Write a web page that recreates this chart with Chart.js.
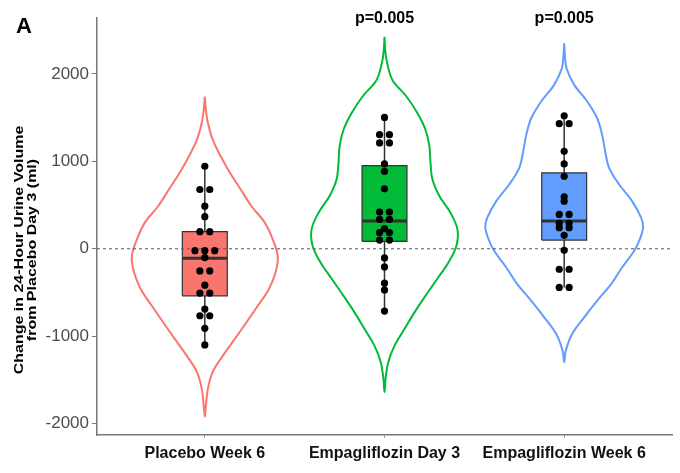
<!DOCTYPE html>
<html>
<head>
<meta charset="utf-8">
<script src="https://cdn.jsdelivr.net/npm/chart.js"></script>
<style>
  body { margin: 0; background: #fff; }
</style>
</head>
<body>
<canvas id="urineChart" width="680" height="473"></canvas>
<script>
// categories, labels
const categories = ['Placebo Week 6', 'Empagliflozin Day 3', 'Empagliflozin Week 6'];
const pValues = ['', 'p=0.005', 'p=0.005'];
const yTicks = [-2000, -1000, 0, 1000, 2000];
const yTitle = ['Change in 24-Hour Urine Volume', 'from Placebo Day 3 (ml)'];
const colors = ['#F8766D', '#00BA38', '#619CFF'];

// violin outlines: value (ml) and half width (fraction of category spacing)
const placeboViolinY = [1742, 1590, 1442, 1248, 1055, 872, 678, 484, 302, 108, -86, -268, -462, -655, -838, -1031, -1225, -1408, -1602, -1796, -1921];
const placeboViolinW = [0, .006, .017, .044, .089, .139, .2, .261, .333, .378, .406, .394, .356, .294, .233, .167, .1, .044, .017, .006, 0];
const day3ViolinY = [2426, 2274, 2123, 1932, 1742, 1553, 1362, 1172, 983, 792, 602, 413, 222, 32, -157, -348, -538, -727, -918, -1108, -1297, -1488, -1639];
const day3ViolinW = [0, .004, .015, .044, .122, .183, .228, .25, .256, .267, .306, .367, .406, .4, .356, .292, .228, .167, .111, .056, .021, .006, 0];
const week6ViolinY = [2351, 2217, 2066, 1875, 1685, 1496, 1305, 1115, 926, 735, 545, 356, 242, 89, -25, -214, -405, -595, -784, -975, -1165, -1297];
const week6ViolinW = [0, .004, .013, .056, .128, .183, .211, .228, .25, .306, .378, .428, .439, .417, .389, .322, .261, .183, .111, .044, .009, 0];

// box stats: [whisker low, q1, median, q3, whisker high]
const placeboBox = [-1100, -538, -108, 196, 944];
const day3Box = [-713, 85, 317, 952, 1503];
const week6Box = [-442, 100, 317, 869, 1522];

// individual patients
const placeboPoints = [944, 678, 678, 488, 367, 196, 196, -21, -21, -21, -100, -253, -253, -416, -507, -507, -690, -766, -766, -910, -1100];
const day3Points = [1503, 1305, 1305, 1211, 1211, 971, 887, 686, 420, 420, 336, 336, 230, 185, 185, 100, 100, -105, -207, -393, -470, -713];
const week6Points = [1522, 1431, 1431, 1115, 971, 830, 595, 545, 393, 393, 291, 291, 242, 242, 154, -17, -234, -234, -442, -442];

const violinsY = [placeboViolinY, day3ViolinY, week6ViolinY];
const violinsW = [placeboViolinW, day3ViolinW, week6ViolinW];
const boxes = [placeboBox, day3Box, week6Box];
const points = [placeboPoints, day3Points, week6Points];

const boxHalf = 0.125;
const dotStep = 0.055;
const font = '"Liberation Sans", Arial, sans-serif';
Chart.defaults.font.family = font;

const datasets = [];

// zero reference line
datasets.push({
    data: [{x: 0.4, y: 0}, {x: 3.6, y: 0}],
    showLine: true, pointRadius: 0, borderColor: '#555', borderWidth: 1,
    borderDash: [3, 3], order: 2
});

categories.forEach((cat, i) => {
    const c = i + 1;
    const vy = violinsY[i], vw = violinsW[i];
    // violin: down the left side, back up the right side
    const outline = vy.map((v, k) => ({x: c - vw[k], y: v}));
    for (let k = vy.length - 2; k >= 0; k--) outline.push({x: c + vw[k], y: vy[k]});
    datasets.push({
        data: outline, showLine: true, pointRadius: 0, tension: 0.35,
        borderColor: colors[i], borderWidth: 2, fill: false, order: 6
    });

    const b = boxes[i];
    // whisker
    datasets.push({
        data: [{x: c, y: b[0]}, {x: c, y: b[4]}],
        showLine: true, pointRadius: 0, borderColor: '#333', borderWidth: 1.5, order: 5
    });
    // box
    datasets.push({
        data: [{x: c - boxHalf, y: b[1]}, {x: c + boxHalf, y: b[1]}, {x: c + boxHalf, y: b[3]}, {x: c - boxHalf, y: b[3]}, {x: c - boxHalf, y: b[1]}],
        showLine: true, pointRadius: 0, tension: 0, borderColor: '#333', borderWidth: 1.2,
        backgroundColor: colors[i], fill: 'shape', order: 4
    });
    // median
    datasets.push({
        data: [{x: c - boxHalf, y: b[2]}, {x: c + boxHalf, y: b[2]}],
        showLine: true, pointRadius: 0, borderColor: '#333', borderWidth: 3, order: 3
    });

    // dots, equal values placed side by side
    const counts = {};
    points[i].forEach(v => counts[v] = (counts[v] || 0) + 1);
    const seen = {};
    const dots = points[i].map(v => {
        const k = seen[v] || 0;
        seen[v] = k + 1;
        return {x: c + (k - (counts[v] - 1) / 2) * dotStep, y: v};
    });
    datasets.push({
        data: dots, pointRadius: 3.6, pointBackgroundColor: '#000',
        pointBorderColor: '#000', pointBorderWidth: 0, order: 1
    });
});

const annotations = {
    id: 'annotations',
    afterDraw(chart) {
        const {ctx, scales: {x}} = chart;
        ctx.save();
        ctx.fillStyle = '#000';
        ctx.textAlign = 'center';
        ctx.textBaseline = 'middle';
        ctx.font = 'bold 16px ' + font;
        pValues.forEach((p, i) => {
            if (p) ctx.fillText(p, x.getPixelForValue(i + 1), 19);
        });
        ctx.font = 'bold 22px ' + font;
        ctx.textAlign = 'left';
        ctx.fillText('A', 16, 27);
        // axis title, glyphs a bit narrower like the original
        ctx.textAlign = 'center';
        ctx.translate(26, 250);
        ctx.rotate(-Math.PI / 2);
        ctx.scale(1, 0.78);
        ctx.font = 'bold 16px ' + font;
        ctx.fillText(yTitle[0], 0, -8.3);
        ctx.fillText(yTitle[1], 0, 8.3);
        ctx.restore();
    }
};

new Chart(document.getElementById('urineChart'), {
    type: 'scatter',
    data: {datasets: datasets},
    options: {
        responsive: false,
        animation: false,
        layout: {padding: {top: 18, right: 8, left: 0, bottom: 0}},
        plugins: {legend: {display: false}, tooltip: {enabled: false}},
        scales: {
            x: {
                type: 'linear', min: 0.4, max: 3.6,
                afterBuildTicks: s => { s.ticks = [1, 2, 3].map(v => ({value: v})); },
                afterFit: s => { s.height = 38; },
                ticks: {
                    callback: v => categories[v - 1],
                    font: {size: 16, weight: 'bold'}, color: '#111',
                    padding: 6, autoSkip: false, maxRotation: 0
                },
                grid: {drawOnChartArea: false, tickLength: 3, color: '#999'},
                border: {color: '#777', width: 1.5}
            },
            y: {
                min: -2130, max: 2640,
                afterBuildTicks: s => { s.ticks = yTicks.map(v => ({value: v})); },
                afterFit: s => { s.width = 97; },
                ticks: {font: {size: 17}, color: '#4d4d4d', padding: 3, callback: v => String(v)},
                grid: {drawOnChartArea: false, tickLength: 5, color: '#777'},
                border: {color: '#777', width: 1.5}
            }
        }
    },
    plugins: [annotations]
});
</script>
</body>
</html>
